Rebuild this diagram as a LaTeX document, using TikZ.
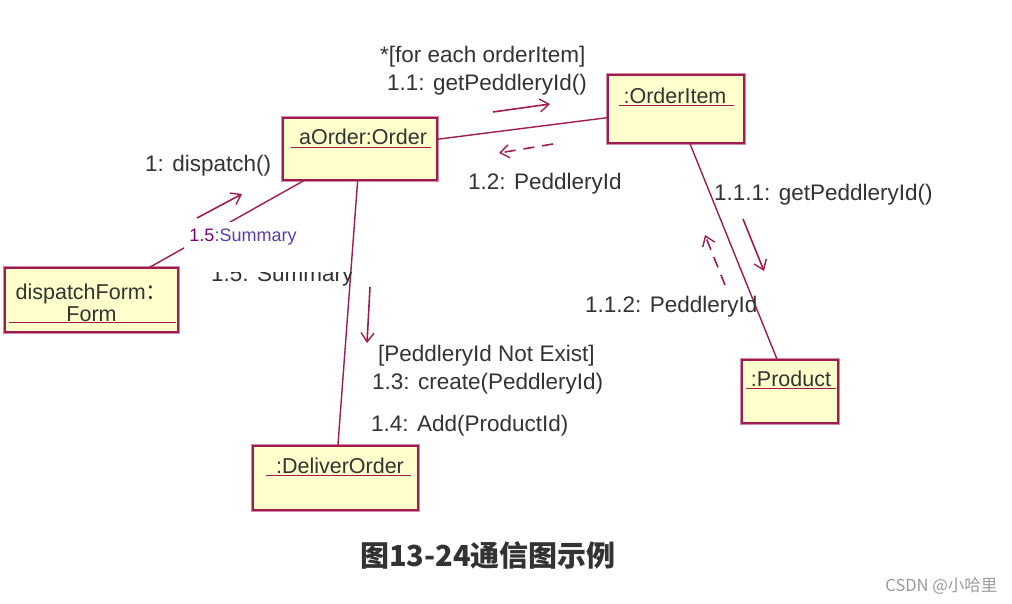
\documentclass[tikz,border=0pt]{standalone}
\usepackage{fontspec}
\setmainfont{Liberation Sans}
\newfontfamily\cjk{Noto Sans CJK SC}
\usetikzlibrary{arrows.meta,positioning,calc}
\definecolor{ink}{HTML}{333333}
\definecolor{umlred}{HTML}{A01C50}
\definecolor{umlpink}{HTML}{D08CA4}
\definecolor{objfill}{HTML}{FFFFCC}
\definecolor{sumblue}{HTML}{5A3CB4}
\definecolor{mark}{HTML}{9A9A9A}
\tikzset{
obj/.style={rectangle,fill=objfill,draw=umlred,line width=1.2pt,preaction={draw=umlpink,line width=3.6pt},inner sep=0pt},
objname/.style={font=\fontsize{21.5}{26}\selectfont,text=ink,inner sep=0pt,align=center},
uline/.style={draw=umlred,line width=1.8pt},
link/.style={draw=umlred,line width=1.4pt},
msg/.style={-{Straight Barb[length=9pt,width=13pt,line width=1.4pt]},draw=umlred,line width=1.6pt},
reply/.style={msg,dash pattern=on 11pt off 8pt},
lbl/.style={font=\fontsize{22.5}{28}\selectfont,text=ink,anchor=west,inner sep=0pt}}
\begin{document}
\begin{tikzpicture}[x=1pt,y=-1pt]
\fill[white] (0,0) rectangle (1012,603);
\useasboundingbox (0,0) rectangle (1012,603);
% objects
\node[obj,minimum width=154pt,minimum height=62pt] (aorder) at (360,149) {};
\node[obj,minimum width=136pt,minimum height=68pt] (oitem) at (676,109) {};
\node[obj,minimum width=173pt,minimum height=64pt] (form) at (91.5,300) {};
\node[obj,minimum width=96pt,minimum height=63pt] (product) at (790,391.5) {};
\node[obj,minimum width=165pt,minimum height=64pt] (deliver) at (335.5,478) {};
\node[objname] (aorder-name) at (363,137) {aOrder:Order};
\node[objname] (oitem-name) at (675,96) {:OrderItem};
\node[objname,font=\fontsize{21.5}{22}\selectfont] (form-name) at (91.5,303) {dispatchForm{\cjk ：}\\Form};
\node[objname] (product-name) at (791,379) {:Product};
\node[objname] (deliver-name) at (340,466) {:DeliverOrder};
\draw[uline] ([xshift=9pt,yshift=-30pt]aorder.north west) -- ([xshift=-7pt,yshift=-30pt]aorder.north east);
\draw[uline] ([xshift=12pt,yshift=-31pt]oitem.north west) -- ([xshift=-11pt,yshift=-31pt]oitem.north east);
\draw[uline] ([xshift=5pt,yshift=-55pt]form.north west) -- ([xshift=-3pt,yshift=-55pt]form.north east);
\draw[uline] ([xshift=5pt,yshift=-29pt]product.north west) -- ([xshift=-3pt,yshift=-29pt]product.north east);
\draw[uline] ([xshift=14pt,yshift=-30pt]deliver.north west) -- ([xshift=-8pt,yshift=-30pt]deliver.north east);
% links
\draw[link] (aorder) -- (oitem);
\draw[link] (aorder) -- (deliver);
\draw[link] (aorder) -- (form);
\draw[link] (oitem) -- (product);
\node[fill=white,inner xsep=5pt,inner ysep=7pt,font=\fontsize{18}{20}\selectfont,text=sumblue] (sum-tag) at (243,237) {\textcolor{violet}{1.5}:Summary};
% messages
\coordinate (m1-s) at (197,218);   \coordinate (m1-e) at (242,194);
\coordinate (m11-s) at (493,112);  \coordinate (m11-e) at (550,104);
\coordinate (m12-s) at (553,144);  \coordinate (m12-e) at (499,153);
\coordinate (m111-s) at (743,219); \coordinate (m111-e) at (764,271);
\coordinate (m112-s) at (725,285); \coordinate (m112-e) at (705,235);
\coordinate (m13-s) at (370,287);  \coordinate (m13-e) at (367,343);
\draw[msg] (m1-s) -- (m1-e);
\draw[msg] (m11-s) -- (m11-e);
\draw[reply] (m12-s) -- (m12-e);
\draw[msg] (m111-s) -- (m111-e);
\draw[reply] (m112-s) -- (m112-e);
\draw[msg] (m13-s) -- (m13-e);
% labels
\node[lbl] (l-each) at (380,57) {*[for each orderItem]};
\node[lbl] (l-11) at (387,85) {1.1: getPeddleryId()};
\node[lbl] (l-12) at (468,184) {1.2: PeddleryId};
\node[lbl] (l-1) at (145,166) {1: dispatch()};
\node[lbl] (l-111) at (714,195) {1.1.1: getPeddleryId()};
\node[lbl] (l-112) at (585,307) {1.1.2: PeddleryId};
\node[lbl] (l-guard) at (378,356) {[PeddleryId Not Exist]};
\node[lbl] (l-13) at (372,384) {1.3: create(PeddleryId)};
\node[lbl] (l-14) at (371,426) {1.4: Add(ProductId)};
\begin{scope}
\clip (200,272) rectangle (352,292);
\node[lbl] (l-15) at (211,276) {1.5: Summary};
\end{scope}
% caption
\node[font=\cjk\bfseries\fontsize{29}{32}\selectfont,text=ink] (caption) at (488,555) {图13-24通信图示例};
\node[font=\cjk\fontsize{16.5}{18}\selectfont,text=mark,anchor=east] (wmark) at (1001,586) {CSDN @小哈里};
\end{tikzpicture}
\end{document}
